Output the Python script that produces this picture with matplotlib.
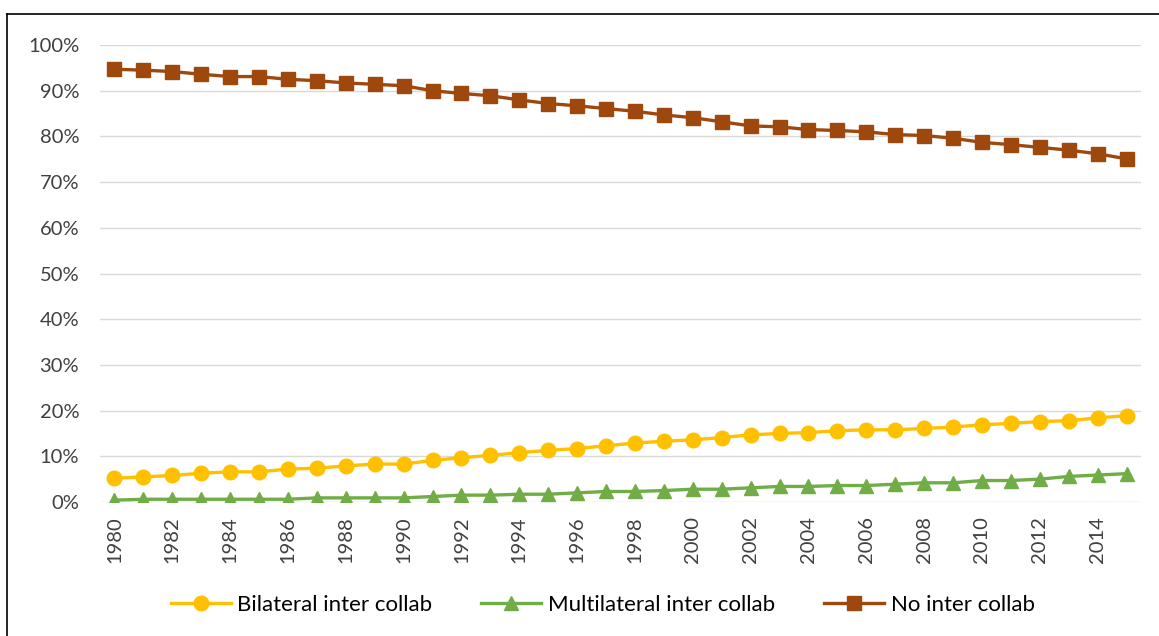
import numpy as np
import matplotlib.pyplot as plt
from matplotlib.lines import Line2D
from matplotlib.ticker import PercentFormatter

plt.rcParams['font.family'] = ['Lato', 'DejaVu Sans']

# Data (share of publications, %)
years = list(range(1980, 2016))
bilateral = [5.2, 5.5, 5.8, 6.3, 6.6, 6.6, 7.2, 7.4, 7.9, 8.3, 8.3, 9.1,
             9.7, 10.2, 10.8, 11.3, 11.7, 12.3, 12.9, 13.3, 13.6, 14.1,
             14.7, 15.0, 15.2, 15.6, 15.8, 15.8, 16.1, 16.4, 16.9, 17.2,
             17.6, 17.8, 18.4, 18.9]
multilateral = [0.4, 0.6, 0.6, 0.6, 0.6, 0.6, 0.6, 0.9, 0.9, 0.9, 0.9, 1.2,
                1.5, 1.5, 1.7, 1.7, 2.0, 2.3, 2.3, 2.5, 2.8, 2.8, 3.1, 3.4,
                3.4, 3.6, 3.6, 3.9, 4.2, 4.2, 4.7, 4.7, 5.0, 5.6, 5.9, 6.2]
no_collab = [94.7, 94.5, 94.2, 93.6, 93.1, 93.1, 92.5, 92.2, 91.7, 91.4,
             91.1, 90.0, 89.4, 88.9, 88.0, 87.2, 86.7, 86.1, 85.5, 84.7,
             84.1, 83.2, 82.3, 82.1, 81.5, 81.3, 81.0, 80.4, 80.2, 79.6,
             78.7, 78.2, 77.6, 77.0, 76.2, 75.1]
labels = ['Bilateral inter collab', 'Multilateral inter collab', 'No inter collab']

fig = plt.figure(figsize=(11.59, 6.36), dpi=100)
ax = fig.add_axes([0.0863, 0.2107, 0.8982, 0.7185])

ax.plot(years, bilateral, color='#FFC000', lw=2.4, marker='o', ms=10.5, label=labels[0])
ax.plot(years, multilateral, color='#70AD47', lw=2.4, marker='^', ms=10.5, label=labels[1])
ax.plot(years, no_collab, color='#9E480E', lw=2.4, marker='s', ms=10, label=labels[2])

ax.set_xlim(1979.5, 2015.5)
ax.set_ylim(0, 100)
ax.set_yticks(np.arange(0, 101, 10))
ax.yaxis.set_major_formatter(PercentFormatter(decimals=0))
ax.set_xticks(years[::2])
ax.set_xticklabels([str(y) for y in years[::2]], rotation=90)
ax.tick_params(length=0, labelsize=14.5, colors='#404040')
ax.tick_params(axis='x', pad=10)
ax.tick_params(axis='y', pad=15)
ax.grid(axis='y', color='#D9D9D9', lw=1)
ax.set_axisbelow(True)
for s in ax.spines.values():
    s.set_visible(False)

fig.legend(loc='center', bbox_to_anchor=(0.52, 0.049), ncol=3, frameon=False,
           fontsize=16, handlelength=2.7, columnspacing=2.2, handletextpad=0.3)

# outer frame (left and top edges)
fig.add_artist(Line2D([0.006, 0.006], [0, 0.978], color='black', lw=1.2))
fig.add_artist(Line2D([0.006, 1.0], [0.978, 0.978], color='black', lw=1.2))

fig.savefig('out.png', dpi=100)
